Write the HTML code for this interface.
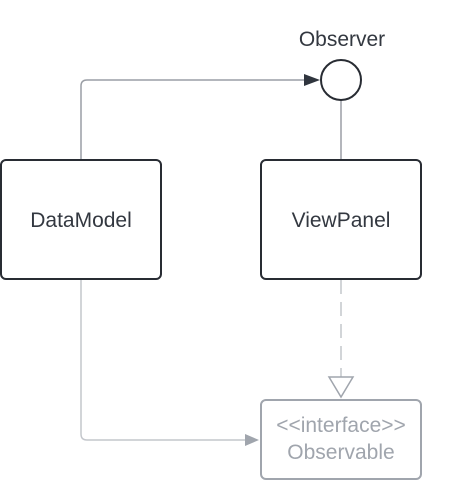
<!DOCTYPE html>
<html><head><meta charset="utf-8"><style>
html,body{margin:0;padding:0;background:#fff;}
svg{display:block;}
text{font-family:"Liberation Sans",sans-serif;}
</style></head><body>
<svg width="461" height="481" viewBox="0 0 461 481" xmlns="http://www.w3.org/2000/svg">
<path d="M81,160 V86 Q81,80 87,80 H306" fill="none" stroke="#9a9ea5" stroke-width="1.5"/>
<polygon points="304,74 320,80 304,86" fill="#2f353e"/>
<line x1="341" y1="100" x2="341" y2="160" stroke="#9a9ea5" stroke-width="1.5"/>
<circle cx="341" cy="80" r="20" fill="#fff" stroke="#282c33" stroke-width="2"/>
<text x="342" y="46" font-size="21" fill="#333840" text-anchor="middle">Observer</text>
<path d="M81,280 V434 Q81,440 87,440 H247" fill="none" stroke="#c4c7cc" stroke-width="1.5"/>
<polygon points="245,434 259,440 245,446" fill="#a0a5ad"/>
<line x1="341" y1="280" x2="341" y2="377" stroke="#c4c7cc" stroke-width="1.5" stroke-dasharray="14,8"/>
<polygon points="329,377 353,377 341,397" fill="#fff" stroke="#a0a5ad" stroke-width="1.5"/>
<rect x="1" y="160" width="160" height="119" rx="5" fill="#fff" stroke="#282c33" stroke-width="2"/>
<text x="81" y="227" font-size="21" fill="#333840" text-anchor="middle">DataModel</text>
<rect x="261" y="160" width="160" height="119" rx="5" fill="#fff" stroke="#282c33" stroke-width="2"/>
<text x="341" y="227" font-size="21" fill="#333840" text-anchor="middle">ViewPanel</text>
<rect x="261" y="400" width="160" height="79" rx="5" fill="#fff" stroke="#a0a5ad" stroke-width="2"/>
<text x="341" y="432" font-size="21" fill="#a0a5ad" text-anchor="middle">&lt;&lt;interface&gt;&gt;</text>
<text x="341" y="459" font-size="21" fill="#a0a5ad" text-anchor="middle">Observable</text>
</svg>
</body></html>
